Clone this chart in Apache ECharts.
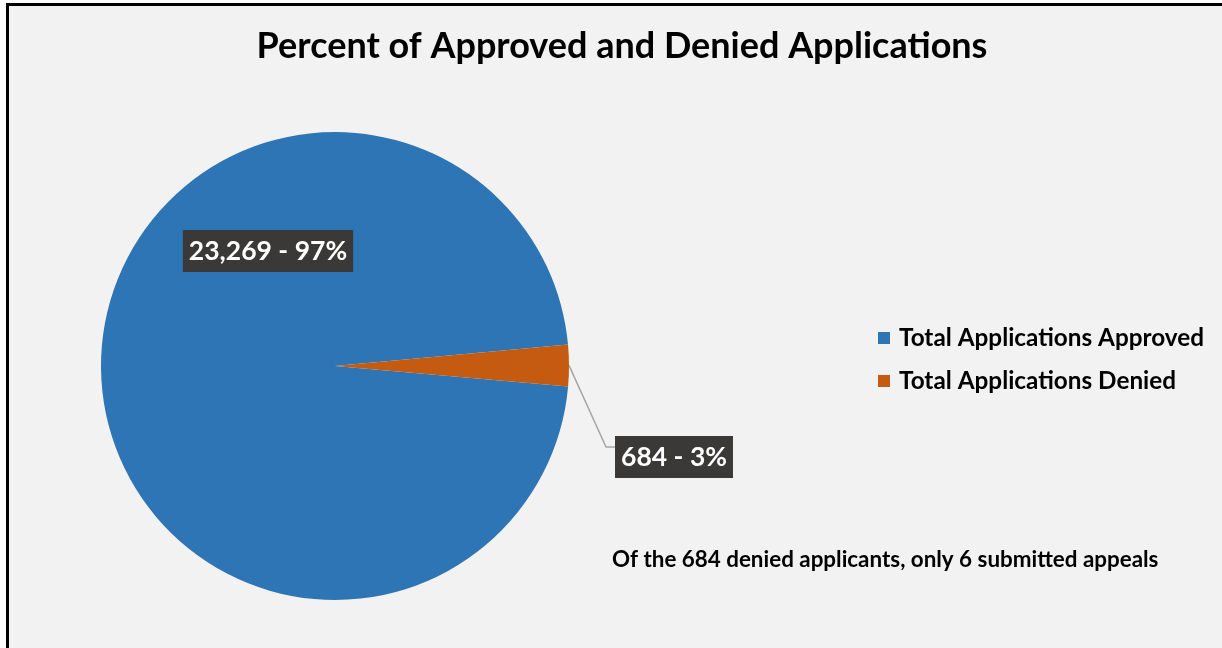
<!DOCTYPE html>
<html>
<head>
<meta charset="utf-8">
<script src="https://cdn.jsdelivr.net/npm/echarts@6/dist/echarts.min.js"></script>
<style>
  html, body { margin: 0; padding: 0; background: #fff; overflow: hidden; }
  #frame {
    position: absolute;
    left: 6px;
    top: 3px;
    width: 1240px;
    height: 680px;
    border-left: 3px solid #000;
    border-top: 3px solid #000;
    background: #f2f2f2;
  }
  #chart { width: 1213px; height: 642px; }
</style>
</head>
<body>
<div id="frame"><div id="chart"></div></div>
<script>
const titleText = 'Percent of Approved and Denied Applications'
const categories = ['Total Applications Approved', 'Total Applications Denied']
const counts = [23269, 684]
const percents = [97, 3]
const colors = ['#2e75b6', '#c55a11']
const noteText = 'Of the 684 denied applicants, only 6 submitted appeals'

const font = 'Lato, "Open Sans", sans-serif'
const chart = echarts.init(document.getElementById('chart'))

const fmt = n => n.toLocaleString('en-US')

// label centres (chart coords)
const labelPos = [
  { x: 259, y: 245 },
  { x: 665, y: 451 }
]

const option = {
  backgroundColor: '#f2f2f2',
  animation: false,
  title: {
    text: titleText,
    left: 608,
    textAlign: 'center',
    top: 17,
    textStyle: { fontFamily: font, fontWeight: 'bold', fontSize: 36, color: '#000' }
  },
  legend: {
    orient: 'vertical',
    left: 864,
    top: 314,
    itemWidth: 12,
    itemHeight: 12,
    itemGap: 17,
    icon: 'rect',
    textStyle: {
      fontFamily: font, fontWeight: 'bold', fontSize: 24.3, color: '#000',
      lineHeight: 26, padding: [0, 0, 0, 4]
    },
    data: categories
  },
  graphic: [{
    type: 'text',
    left: 603,
    top: 543,
    style: {
      text: noteText,
      font: 'bold 22.4px ' + font,
      fill: '#000'
    }
  }],
  series: [{
    type: 'pie',
    center: [326, 360],
    radius: [0, 234],
    startAngle: 355,
    clockwise: true,
    avoidLabelOverlap: false,
    itemStyle: { borderWidth: 0 },
    label: {
      show: true,
      formatter: p => fmt(counts[p.dataIndex]) + ' - ' + percents[p.dataIndex] + '%',
      fontFamily: font,
      fontWeight: 'bold',
      fontSize: 26.5,
      color: '#fff',
      backgroundColor: '#3b3838',
      padding: [8, 6, 7, 6]
    },
    labelLine: {
      show: true,
      lineStyle: { color: '#a6a6a6', width: 1.5 }
    },
    labelLayout: function (p) {
      const pos = labelPos[p.dataIndex]
      const out = { x: pos.x, y: pos.y, align: 'center', verticalAlign: 'middle' }
      if (p.dataIndex === 1 && p.labelLinePoints) {
        const start = p.labelLinePoints[0]
        const left = pos.x - p.labelRect.width / 2
        out.labelLinePoints = [start, [left - 9, pos.y - 10], [left, pos.y - 10]]
      }
      return out
    },
    data: categories.map((name, i) => ({
      name: name,
      value: counts[i],
      itemStyle: { color: colors[i] },
      label: { position: i === 0 ? 'inside' : 'outside' },
      labelLine: { show: i === 1 }
    }))
  }]
}

chart.setOption(option)
</script>
</body>
</html>
